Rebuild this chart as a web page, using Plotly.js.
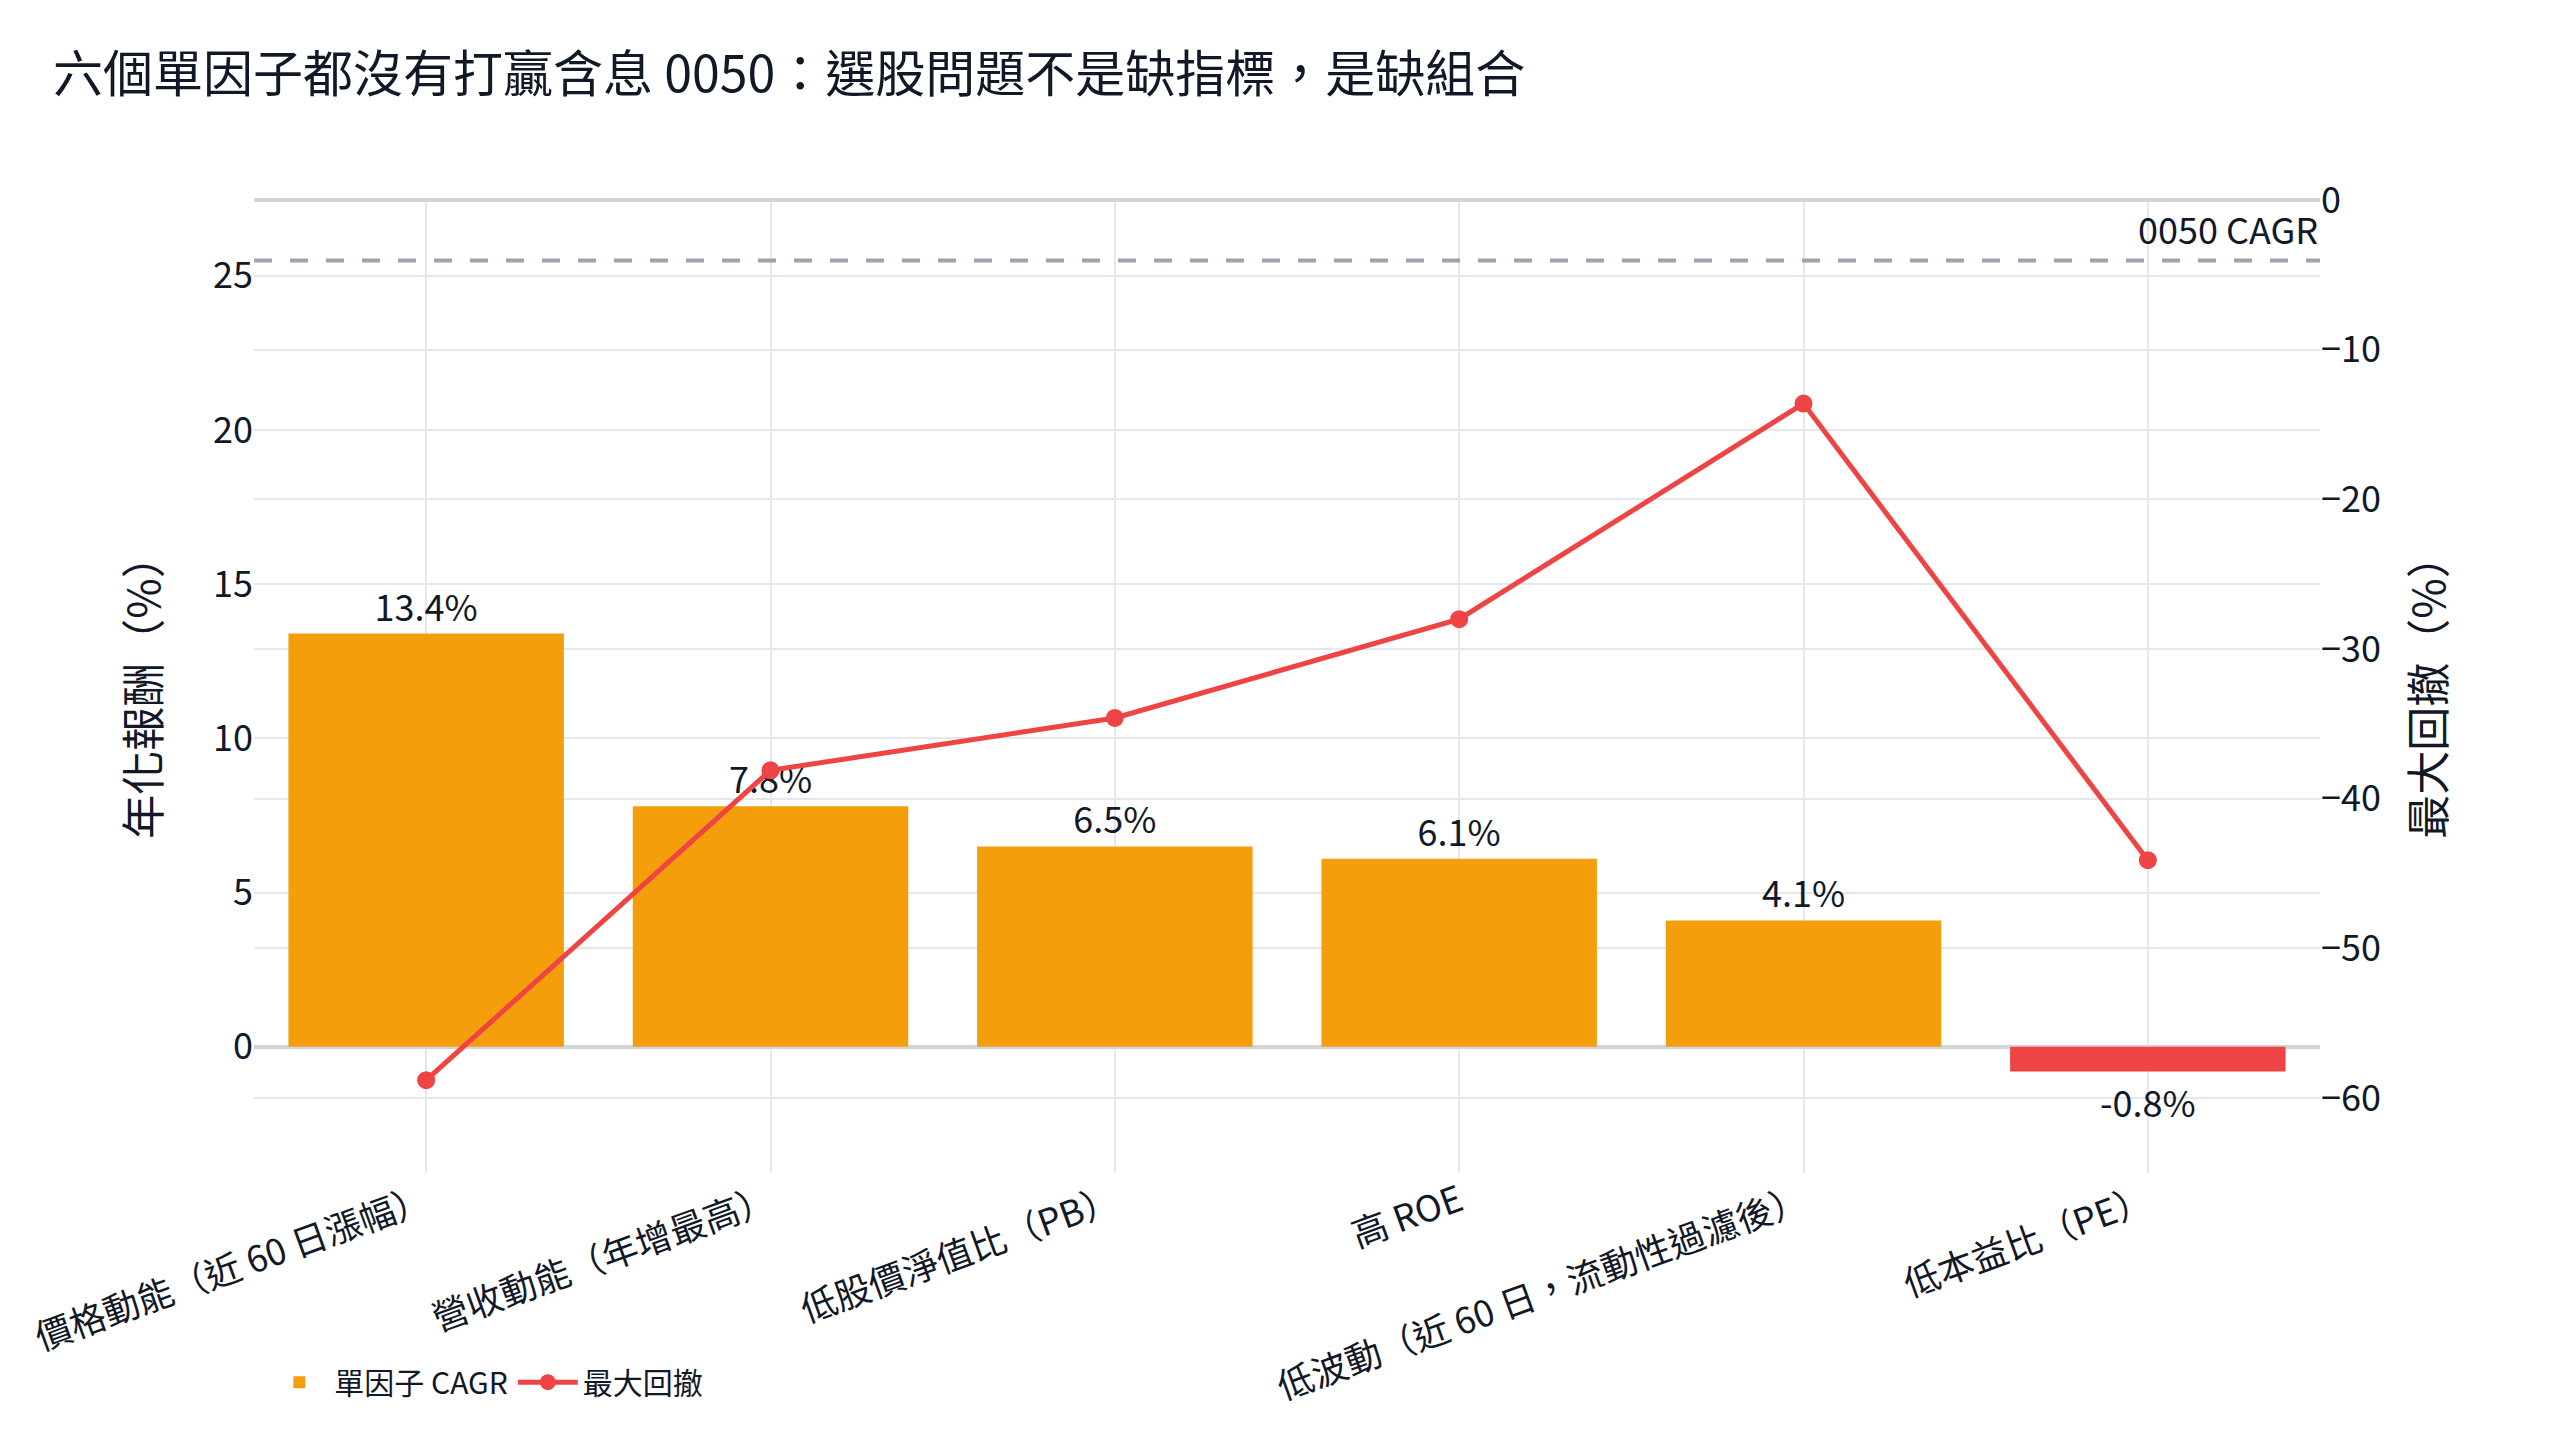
<!DOCTYPE html>
<html>
<head>
<meta charset="utf-8">
<script src="https://cdn.plot.ly/plotly-3.0.1.min.js"></script>
<style>
  html, body { margin: 0; padding: 0; background: #ffffff; }
</style>
</head>
<body>
<div id="chart"></div>
<script>
var factorNames = [
    '價格動能（近 60 日漲幅）',
    '營收動能（年增最高）',
    '低股價淨值比（PB）',
    '高 ROE',
    '低波動（近 60 日，流動性過濾後）',
    '低本益比（PE）'
];
var cagrValues = [13.4, 7.8, 6.5, 6.1, 4.1, -0.8];
var maxDrawdown = [-58.8, -38.1, -34.6, -28.0, -13.6, -44.1];
var benchmarkCagr = 25.5;

var fontFamily = '"Noto Sans CJK TC", "Noto Sans", sans-serif';
var ink = '#111827';

var configOptions = {
    staticPlot: true,
    displayModeBar: false
};

function drawChart(plotDiv) {

    var barColors = cagrValues.map(function (v) { return v < 0 ? '#ef4444' : '#f59e0b'; });
    var barText = cagrValues.map(function (v) { return v.toFixed(1) + '%'; });

    var bars = {
        type: 'bar',
        name: '單因子 CAGR',
        x: factorNames,
        y: cagrValues,
        text: barText,
        textposition: 'outside',
        cliponaxis: false,
        textfont: { size: 36, color: ink },
        marker: { color: barColors },
        yaxis: 'y'
    };

    var drawdown = {
        type: 'scatter',
        mode: 'lines+markers',
        name: '最大回撤',
        x: factorNames,
        y: maxDrawdown,
        line: { color: '#ef4444', width: 5 },
        marker: { color: '#ef4444', size: 18 },
        yaxis: 'y2'
    };

    var layout = {
        width: 2560,
        height: 1440,
        paper_bgcolor: '#ffffff',
        plot_bgcolor: '#ffffff',
        font: { family: fontFamily, size: 36, color: ink },
        title: {
            text: '六個單因子都沒有打贏含息 0050：選股問題不是缺指標，是缺組合',
            font: { size: 50, color: ink },
            x: 0.0207,
            xanchor: 'left',
            xref: 'container',
            y: 0.9486,
            yanchor: 'middle'
        },
        margin: { l: 254, r: 240, t: 200, b: 267, pad: 0 },
        bargap: 0.2,
        showlegend: true,
        legend: {
            orientation: 'h',
            x: 0.005,
            xanchor: 'left',
            y: -0.215,
            yanchor: 'middle',
            itemwidth: 60,
            font: { size: 30, color: ink }
        },
        xaxis: {
            tickangle: -20,
            showgrid: true,
            gridcolor: '#e5e7eb',
            gridwidth: 2,
            tickfont: { size: 36, color: ink }
        },
        yaxis: {
            title: { text: '年化報酬（%）', font: { size: 44, color: ink }, standoff: 38 },
            range: [-4.09, 27.46],
            dtick: 5,
            gridcolor: '#e5e7eb',
            gridwidth: 2,
            zeroline: true,
            zerolinecolor: '#d1d5db',
            zerolinewidth: 4,
            tickfont: { size: 36, color: ink }
        },
        yaxis2: {
            title: { text: '最大回撤（%）', font: { size: 44, color: ink }, standoff: 34 },
            overlaying: 'y',
            side: 'right',
            range: [-65, 0],
            dtick: 10,
            gridcolor: '#e5e7eb',
            gridwidth: 2,
            zeroline: true,
            zerolinecolor: '#d1d5db',
            zerolinewidth: 4,
            tickfont: { size: 36, color: ink }
        },
        shapes: [{
            type: 'line',
            xref: 'paper',
            x0: 0,
            x1: 1,
            yref: 'y',
            y0: benchmarkCagr,
            y1: benchmarkCagr,
            line: { color: '#9ca3af', width: 4, dash: '18px,18px' }
        }],
        annotations: [{
            text: '0050 CAGR',
            xref: 'paper',
            x: 1,
            xanchor: 'right',
            yref: 'y',
            y: benchmarkCagr,
            yanchor: 'bottom',
            yshift: 4,
            showarrow: false,
            font: { size: 36, color: ink }
        }]
    };

    Plotly.newPlot(plotDiv, [bars, drawdown], layout, configOptions);
}

drawChart('chart');
</script>
</body>
</html>
